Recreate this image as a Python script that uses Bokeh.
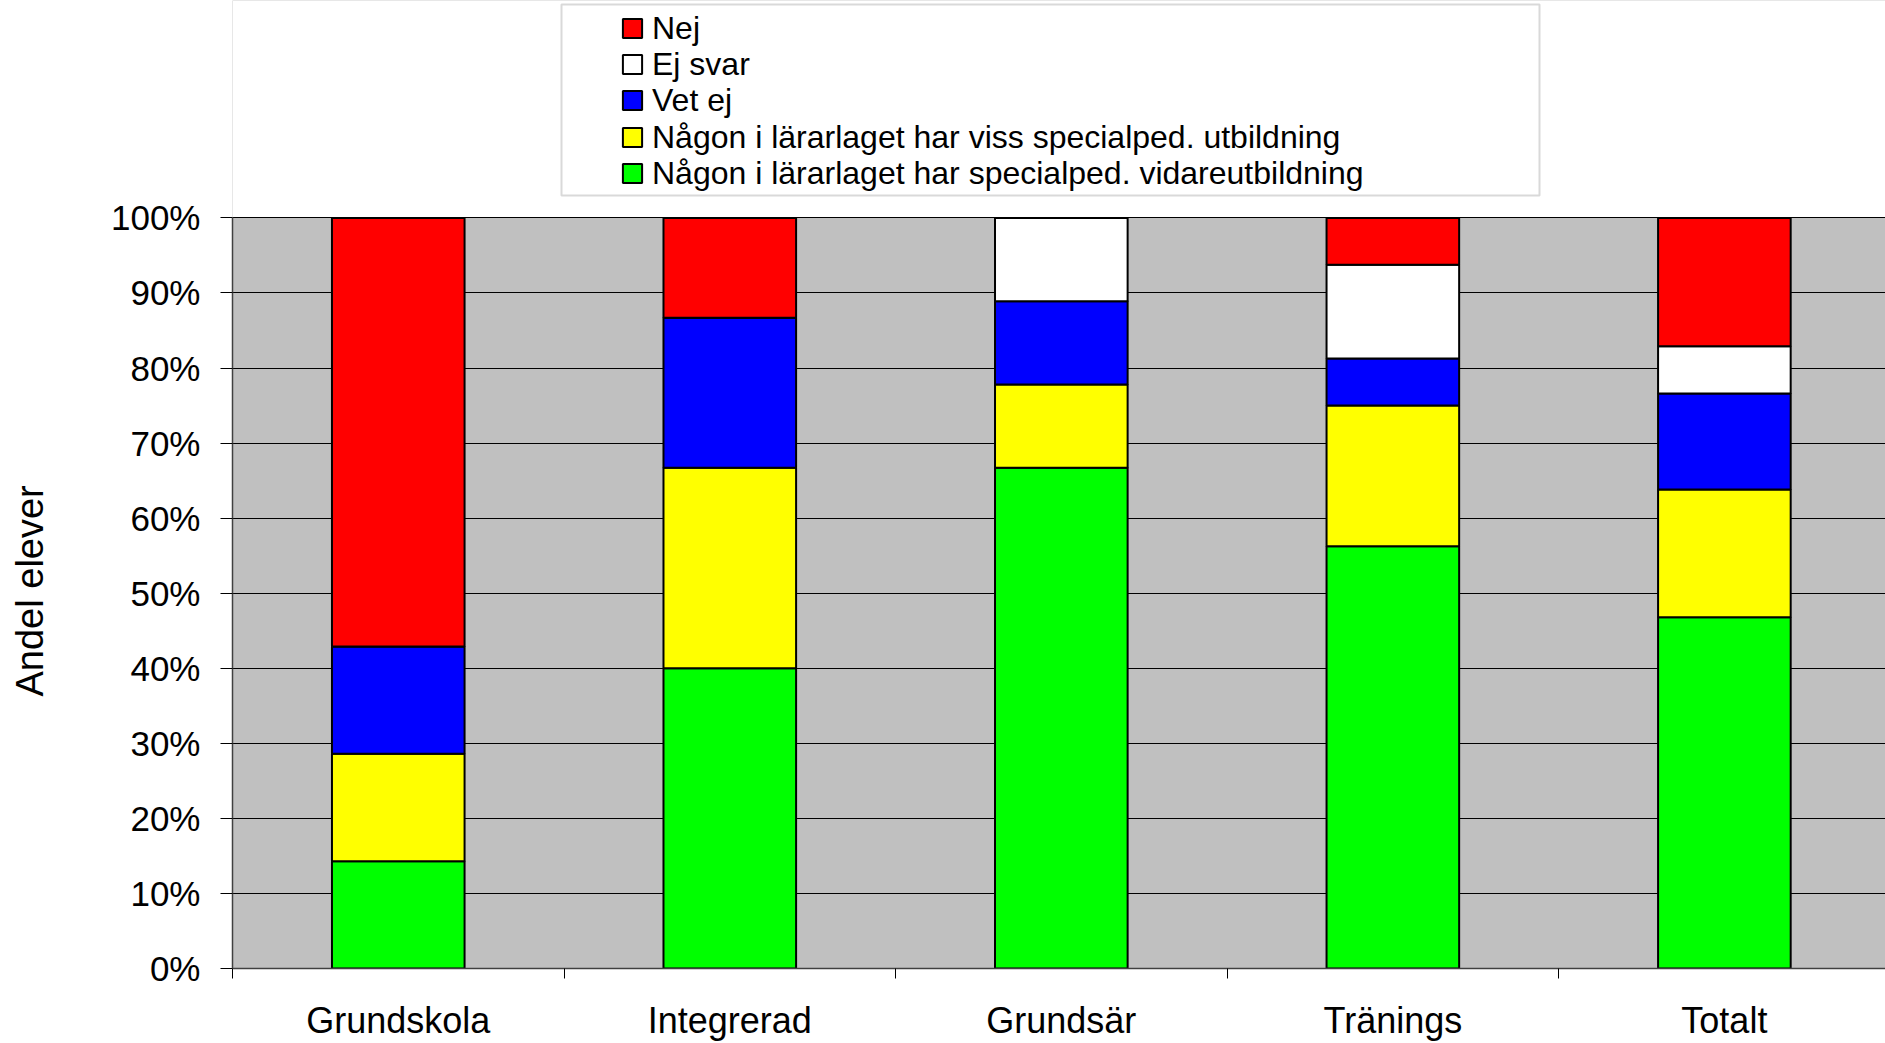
from bokeh.plotting import figure
from bokeh.models import (ColumnDataSource, Range1d, FixedTicker, PrintfTickFormatter,
                          Legend, LegendItem, BoxAnnotation, Title)
from bokeh.embed import file_html
from bokeh.resources import INLINE

categories = ["Grundskola", "Integrerad", "Grundsär", "Tränings", "Totalt"]
vidareutb = [14.3, 40.0, 66.7, 56.25, 46.8]
viss_utb = [14.3, 26.7, 11.1, 18.75, 17.0]
vet_ej = [14.3, 20.0, 11.1, 6.25, 12.8]
ej_svar = [0.0, 0.0, 11.1, 12.5, 6.3]
nej = [57.1, 13.3, 0.0, 6.25, 17.1]
y_ticks = [0, 10, 20, 30, 40, 50, 60, 70, 80, 90, 100]

series_keys = ["vidareutb", "viss_utb", "vet_ej", "ej_svar", "nej"]
series_labels = ["Någon i lärarlaget har specialped. vidareutbildning",
                 "Någon i lärarlaget har viss specialped. utbildning",
                 "Vet ej", "Ej svar", "Nej"]
series_colors = ["#00FF00", "#FFFF00", "#0000FF", "#FFFFFF", "#FF0000"]

xs = [i + 0.5 for i in range(len(categories))]
source = ColumnDataSource(dict(x=xs, vidareutb=vidareutb, viss_utb=viss_utb,
                               vet_ej=vet_ej, ej_svar=ej_svar, nej=nej))

FONT = "Liberation Sans"

p = figure(width=1885, height=1043, output_backend="svg", toolbar_location=None,
           x_range=Range1d(0, 4.986), y_range=Range1d(0, 128.96),
           min_border_left=232, min_border_right=0, min_border_top=0, min_border_bottom=73)
p.background_fill_color = "#C0C0C0"
p.border_fill_color = "white"
p.outline_line_color = None

# white area above the plot region (legend zone)
p.add_layout(BoxAnnotation(bottom=100, fill_color="white", fill_alpha=1.0,
                           line_color=None, level="image"))

renderers = p.vbar_stack(series_keys, x="x", width=0.4, source=source,
                         fill_color=series_colors, line_color="black", line_width=2)

# axes
p.yaxis.ticker = FixedTicker(ticks=y_ticks, minor_ticks=[])
p.yaxis.formatter = PrintfTickFormatter(format="%d%%")
p.yaxis.bounds = (0, 100)
p.yaxis.major_label_text_font = FONT
p.yaxis.major_label_text_font_size = "35px"
p.yaxis.major_label_text_color = "black"
p.yaxis.major_label_standoff = 20
p.yaxis.major_tick_out = 12
p.yaxis.major_tick_in = 0
p.yaxis.major_tick_line_color = "black"
p.yaxis.axis_line_color = "#404040"
p.yaxis.axis_line_width = 1.5
# blank spacer label: keeps the gap between tick labels and the axis title
p.yaxis.axis_label = " "
p.yaxis.axis_label_text_font_size = "10px"
p.yaxis.axis_label_standoff = 38

# y-axis title, placed along the 0-100 % span
p.add_layout(Title(text="Andel elever", align="left", offset=272, standoff=9,
                   text_font=FONT, text_font_size="38px", text_font_style="normal",
                   text_color="black"), "left")

p.xaxis.ticker = FixedTicker(ticks=xs, minor_ticks=list(range(len(categories) + 1)))
p.xaxis.major_label_overrides = {x: c for x, c in zip(xs, categories)}
p.xaxis.major_label_text_font = FONT
p.xaxis.major_label_text_font_size = "36px"
p.xaxis.major_label_text_color = "black"
p.xaxis.major_label_standoff = 21
p.xaxis.major_tick_out = 0
p.xaxis.major_tick_in = 0
p.xaxis.major_tick_line_color = None
p.xaxis.minor_tick_out = 10
p.xaxis.minor_tick_in = 0
p.xaxis.minor_tick_line_color = "black"
p.xaxis.axis_line_color = "#404040"
p.xaxis.axis_line_width = 1.5

p.xgrid.grid_line_color = None
p.ygrid.ticker = FixedTicker(ticks=y_ticks, minor_ticks=[])
p.ygrid.bounds = (0, 100)
p.ygrid.grid_line_color = "black"
p.ygrid.grid_line_width = 1

# legend box
p.add_layout(BoxAnnotation(left=329, right=1307, bottom=773, top=964,
                           left_units="screen", right_units="screen",
                           bottom_units="screen", top_units="screen",
                           fill_color="white", fill_alpha=1.0,
                           line_color="#808080", line_width=2, level="annotation"))

# one legend row per series, top row = top of stack
row_h = 40
row_centers = [940, 904, 868, 831, 795]  # screen offsets from frame bottom
for r, lab, cy in zip(reversed(renderers), reversed(series_labels), row_centers):
    lg = Legend(items=[LegendItem(label=lab, renderers=[r])],
                location=(388, cy - row_h // 2), padding=0, margin=0,
                border_line_color=None, background_fill_alpha=0,
                glyph_width=24, glyph_height=24, label_standoff=8,
                label_text_font=FONT, label_text_font_size="32px",
                label_text_color="black", label_height=row_h)
    p.add_layout(lg, "center")

open("out.html", "w").write(file_html(p, INLINE))
